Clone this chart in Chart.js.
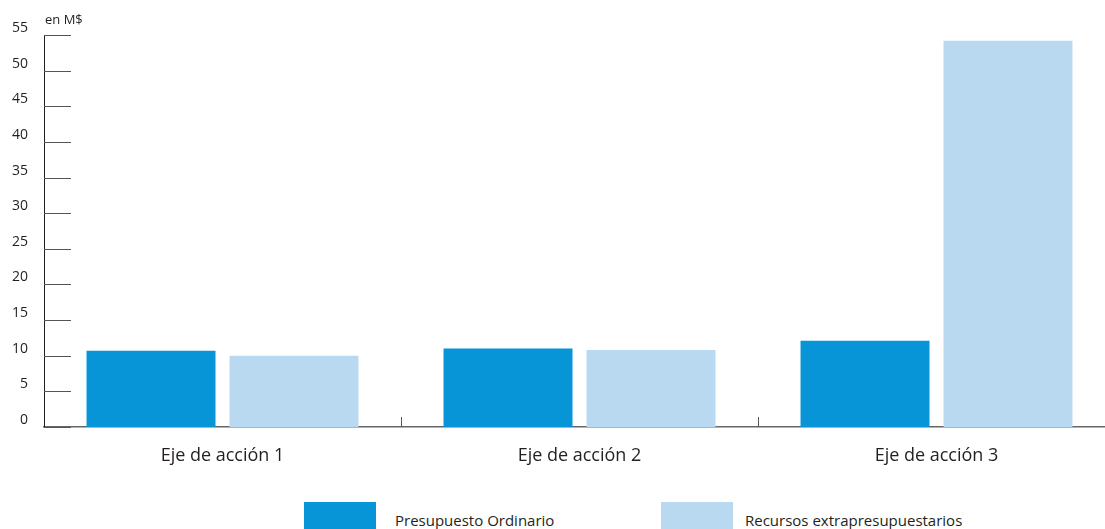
<!DOCTYPE html>
<html>
<head>
<meta charset="utf-8">
<script src="https://cdn.jsdelivr.net/npm/chart.js@4/dist/chart.umd.min.js"></script>
<style>
  html, body { margin: 0; padding: 0; background: #fff; overflow: hidden; }
  #wrap { position: relative; width: 1105px; height: 529px; overflow: hidden; }
  #caja { position: absolute; left: 0; top: 0; width: 1120px; height: 480px; }
  .leyenda { position: absolute; top: 502px; height: 36px; font-family: "Open Sans", sans-serif; font-size: 15px; color: #231f20; }
  .leyenda span.box { position: absolute; left: 0; top: 0; width: 72px; height: 36px; }
  .leyenda span.txt { position: absolute; top: 8px; white-space: nowrap; }
</style>
</head>
<body>
<div id="wrap">
  <div id="caja"><canvas id="grafico"></canvas></div>
  <div id="leyenda"></div>
</div>
<script>
const ejes = ['Eje de acción 1', 'Eje de acción 2', 'Eje de acción 3'];
const ordinario = [10.7, 11.0, 12.1];
const extra = [10.0, 10.8, 54.2];
const series = ['Presupuesto Ordinario', 'Recursos extrapresupuestarios'];
const colores = ['#0795d8', '#b9d9f1'];
const ticksY = [0, 5, 10, 15, 20, 25, 30, 35, 40, 45, 50, 55];

const fuente = '"Open Sans", sans-serif';

// rayitas cortas del eje y y separadores de categorias en el eje x
const marcas = {
  id: 'marcas',
  afterDatasetsDraw(chart) {
    const ctx = chart.ctx;
    const a = chart.chartArea;
    const y = chart.scales.y;
    const x = chart.scales.x;
    ctx.save();
    ctx.strokeStyle = '#555';
    ctx.lineWidth = 1;
    ticksY.forEach(v => {
      const py = Math.round(y.getPixelForValue(v)) + 0.5;
      ctx.beginPath();
      ctx.moveTo(a.left, py);
      ctx.lineTo(a.left + 27, py);
      ctx.stroke();
    });
    for (let i = 0; i < ejes.length - 1; i++) {
      const px = Math.round((x.getPixelForValue(i) + x.getPixelForValue(i + 1)) / 2) + 0.5;
      ctx.beginPath();
      ctx.moveTo(px, a.bottom);
      ctx.lineTo(px, a.bottom - 10);
      ctx.stroke();
    }
    ctx.fillStyle = '#231f20';
    ctx.font = '13px ' + fuente;
    ctx.textBaseline = 'middle';
    ctx.fillText('en M$', a.left + 1, 20);
    ctx.restore();
  }
};

const ctx = document.querySelector('#grafico');
new Chart(ctx, {
  type: 'bar',
  data: {
    labels: ejes,
    datasets: [
      { label: series[0], data: ordinario, backgroundColor: colores[0] },
      { label: series[1], data: extra, backgroundColor: colores[1] }
    ]
  },
  options: {
    responsive: true,
    maintainAspectRatio: false,
    animation: false,
    layout: { padding: { top: 35, right: 5, left: 0, bottom: 0 } },
    datasets: { bar: { categoryPercentage: 0.801, barPercentage: 0.902 } },
    plugins: { legend: { display: false }, tooltip: { enabled: false } },
    scales: {
      x: {
        grid: { display: false },
        border: { display: true, color: '#666', width: 1.5 },
        ticks: { color: '#231f20', padding: 10, font: { family: fuente, size: 18 } },
        afterFit: s => { s.height = 53; }
      },
      y: {
        min: 0,
        max: 55,
        afterBuildTicks: s => { s.ticks = ticksY.map(v => ({ value: v })); },
        grid: { display: false, drawTicks: false },
        border: { display: true, color: '#231f20', width: 1 },
        ticks: { color: '#231f20', padding: 16, labelOffset: -7, font: { family: fuente, size: 14 } },
        afterFit: s => { s.width = 44; }
      }
    }
  },
  plugins: [marcas]
});

// leyenda abajo
const ley = document.querySelector('#leyenda');
const posLey = [304, 661];
series.forEach((nombre, i) => {
  const d = document.createElement('div');
  d.className = 'leyenda';
  d.style.left = posLey[i] + 'px';
  d.innerHTML = '<span class="box" style="background:' + colores[i] + '"></span><span class="txt" style="left:' + (i === 0 ? 91 : 84) + 'px">' + nombre + '</span>';
  ley.appendChild(d);
});
</script>
</body>
</html>
